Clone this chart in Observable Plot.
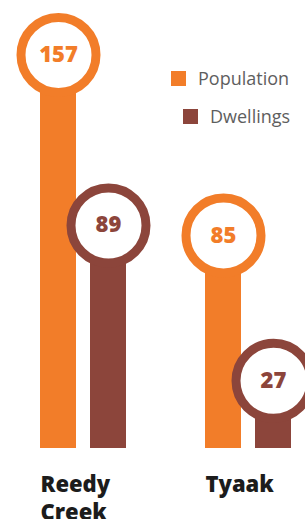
<!DOCTYPE html>
<html>
<head>
<meta charset="utf-8">
<script src="https://cdn.jsdelivr.net/npm/d3@7"></script>
<script src="https://cdn.jsdelivr.net/npm/@observablehq/plot@0.6"></script>
<style>
  html, body { margin: 0; padding: 0; background: #fff; }
  #wrap { position: relative; width: 305px; height: 519px; overflow: hidden; font-family: "Open Sans", sans-serif; }
  #wrap svg { display: block; }
  .lg { position: absolute; display: flex; align-items: center; font-size: 18px; color: #5e5e5e; height: 22px; white-space: nowrap; }
  .lg .sw { width: 15px; height: 15px; margin-right: 12px; }
</style>
</head>
<body>
<div id="wrap"></div>
<script>
const groups = ["Reedy Creek", "Tyaak"];
const series = ["Population", "Dwellings"];
const population = [157, 85];
const dwellings = [89, 27];
const colors = ["#F27D29", "#8C453B"];

const data = groups.flatMap((g, i) => [
  {group: g, series: "Population", value: population[i]},
  {group: g, series: "Dwellings", value: dwellings[i]}
]);

const chart = Plot.plot({
  width: 305,
  height: 519,
  marginLeft: 40,
  marginRight: 13,
  marginTop: 0,
  marginBottom: 47,
  style: {fontFamily: "'Open Sans', sans-serif", background: "white"},
  fx: {domain: groups, paddingInner: 0.476, paddingOuter: 0, axis: null, label: null},
  x: {domain: series, paddingInner: 0.287, paddingOuter: 0, axis: null, label: null},
  y: {domain: [0, 157], range: [448, 54.5], axis: null, label: null},
  color: {domain: series, range: colors},
  marks: [
    Plot.barY(data, {fx: "group", x: "series", y: "value", fill: "series"}),
    Plot.dot(data, {fx: "group", x: "series", y: "value", r: 37.5, fill: "white", stroke: "series", strokeWidth: 9}),
    Plot.text(data, {fx: "group", x: "series", y: "value", text: "value", fill: "series", fontSize: 22, fontWeight: 800}),
    Plot.text(groups, {fx: d => d, text: d => d, frameAnchor: "bottom-left", lineAnchor: "top", textAnchor: "start",
      lineWidth: 5, lineHeight: 1.25, fontSize: 22, fontWeight: 800, fill: "#1c1c1c"})
  ]
});

const wrap = document.getElementById("wrap");
wrap.appendChild(chart);

const legendPos = [{left: 171, top: 67}, {left: 183, top: 105}];
series.forEach((s, i) => {
  const row = document.createElement("div");
  row.className = "lg";
  row.style.left = legendPos[i].left + "px";
  row.style.top = legendPos[i].top + "px";
  const sw = document.createElement("span");
  sw.className = "sw";
  sw.style.background = colors[i];
  const t = document.createElement("span");
  t.textContent = s;
  row.appendChild(sw);
  row.appendChild(t);
  wrap.appendChild(row);
});
</script>
</body>
</html>
